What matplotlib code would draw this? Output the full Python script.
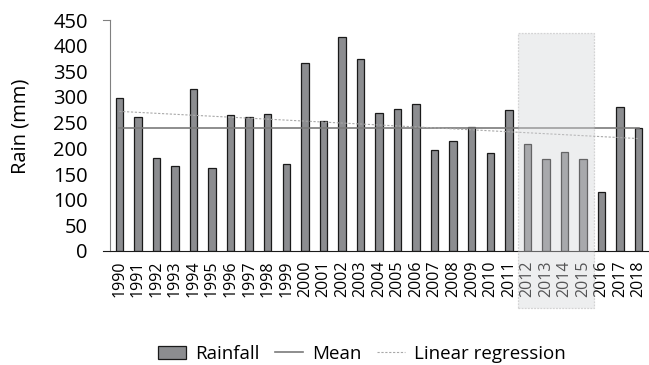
import matplotlib.pyplot as plt
import numpy as np
from matplotlib.patches import Rectangle
from matplotlib.lines import Line2D
from matplotlib.patches import Patch

plt.rcParams['font.family'] = ['Open Sans', 'DejaVu Sans']

anos = np.arange(1990, 2019)
chuva = np.array([299, 262, 182, 165, 315, 162, 264, 262, 266, 170,
                  367, 254, 417, 375, 269, 276, 287, 196, 215, 242,
                  190, 275, 209, 179, 192, 180, 114, 281, 239])
media = 240
# reta de regressao: valor no primeiro e no ultimo ano
regressao = [272, 219]
anos_destaque = [2012, 2015]

fig = plt.figure(figsize=(6.49, 3.65), dpi=100)
ax = fig.add_axes([110 / 649, 114 / 365, 538 / 649, 231 / 365])

x = np.arange(len(anos))
ax.bar(x, chuva, width=0.4, color='#8c8d90', edgecolor='#1a1a1a', linewidth=0.9, zorder=2)
ax.plot([x[0], x[-1]], [media, media], color='#7a7a7a', linewidth=1.2, zorder=3)
ax.plot([x[0], x[-1]], regressao, color='#a8a8a8', linewidth=0.8, linestyle=(0, (2, 1.5)), zorder=3)

ax.set_xlim(-0.5, len(anos) - 0.5)
ax.set_ylim(0, 450)
ax.set_yticks(np.arange(0, 451, 50))
ax.set_xticks(x)
ax.set_xticklabels(anos, rotation=90, fontsize=11.5)
ax.tick_params(axis='y', labelsize=14.5, length=0, pad=16)
ax.tick_params(axis='x', length=0, pad=7)
ax.set_ylabel('Rain (mm)', fontsize=14.5)
ax.yaxis.set_label_coords(-79 / 538, 0.54)

for s in ['top', 'right']:
    ax.spines[s].set_visible(False)
ax.spines['left'].set_color('#808080')
ax.spines['bottom'].set_color('#1a1a1a')
ax.spines['bottom'].set_bounds(-0.9, len(anos) - 0.5)
# marquinha no topo do eixo y
ax.plot([-0.9, -0.5], [450, 450], color='#808080', linewidth=0.8, clip_on=False)

# destaque 2012-2015
i0 = anos_destaque[0] - anos[0]
i1 = anos_destaque[1] - anos[0]
y_base = ax.transData.inverted().transform(fig.transFigure.transform((0, (365 - 308) / 365)))[1]
ret = Rectangle((i0 - 0.53, y_base), (i1 - i0) + 1.13, 425 - y_base,
                facecolor='#d4d5d8', alpha=0.4, edgecolor='#a0a0a0',
                linestyle=(0, (1.5, 1)), linewidth=0.9, clip_on=False, zorder=5)
ax.add_patch(ret)

itens = [Patch(facecolor='#8c8d90', edgecolor='#1a1a1a', linewidth=0.9, label='Rainfall'),
         Line2D([], [], color='#7a7a7a', linewidth=1.2, label='Mean'),
         Line2D([], [], color='#a8a8a8', linewidth=0.8, linestyle=(0, (2, 1.5)), label='Linear regression')]
fig.legend(handles=itens, loc='center', bbox_to_anchor=(362 / 649, 1 - 354 / 365), ncol=3,
           frameon=False, fontsize=13.5, handlelength=1.5, handletextpad=0.5, columnspacing=0.8)

fig.savefig('out.png', dpi=100)
